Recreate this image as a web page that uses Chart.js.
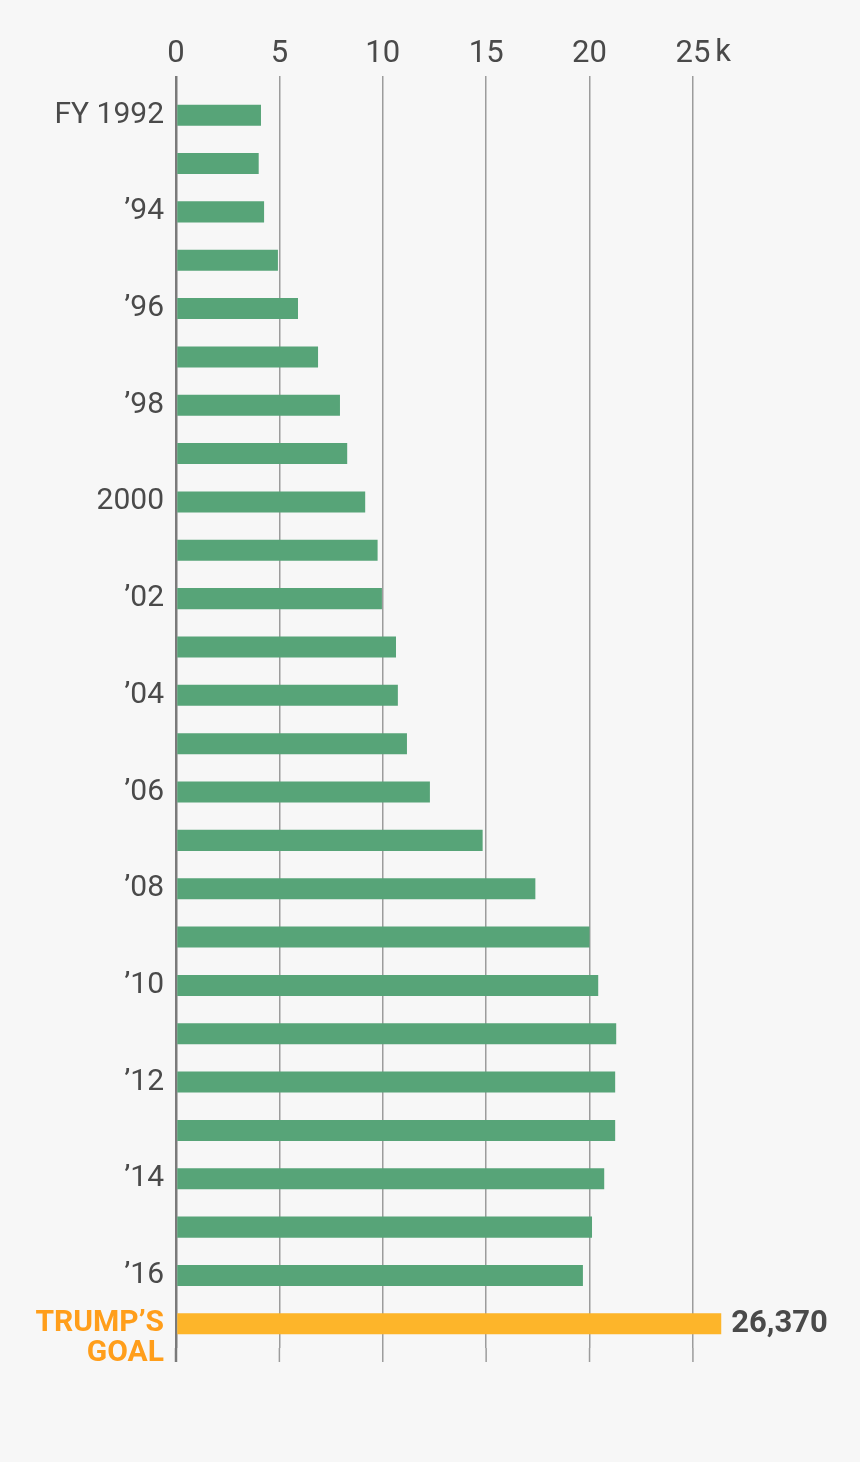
<!DOCTYPE html>
<html>
<head>
<meta charset="utf-8">
<script src="https://cdn.jsdelivr.net/npm/chart.js@4.4.1/dist/chart.umd.min.js"></script>
<style>
  html, body { margin: 0; padding: 0; background: #f7f7f7; }
  #wrap { width: 860px; height: 1462px; position: relative; }
</style>
</head>
<body>
<div id="wrap"><canvas id="barChart"></canvas></div>
<script>
// fiscal years, FY 1992 - FY 2016, then the goal row
var years = ["FY 1992", "", "\u201994", "", "\u201996", "", "\u201998", "", "2000", "",
  "\u201902", "", "\u201904", "", "\u201906", "", "\u201908", "", "\u201910", "",
  "\u201912", "", "\u201914", "", "\u201916", ["", "TRUMP\u2019S", "GOAL"]];

// values in thousands
var values = [4.11, 4.0, 4.26, 4.93, 5.9, 6.87, 7.93, 8.28, 9.15, 9.75,
  9.96, 10.64, 10.73, 11.17, 12.28, 14.83, 17.38, 20.0, 20.42, 21.29,
  21.24, 21.24, 20.71, 20.12, 19.68];
var goal = 26.37;

var xTicks = [0, 5, 10, 15, 20, 25];

var GREEN = "#57a478";
var ORANGE = "#fdb52a";
var ORANGE_TEXT = "#ff9e1b";
var TEXT = "#4a4a4a";
var FONT = "Roboto, 'Noto Sans', sans-serif";

var data = values.concat([goal]);
var colors = data.map(function (v, i) { return i === data.length - 1 ? ORANGE : GREEN; });

// extend grid lines a bit below the chart area, draw the "k" unit and the goal label
var extras = {
  id: "extras",
  beforeDatasetsDraw: function (chart) {
    var ctx = chart.ctx, x = chart.scales.x, area = chart.chartArea;
    ctx.save();
    x.ticks.forEach(function (t) {
      var px = x.getPixelForValue(t.value);
      ctx.strokeStyle = t.value === 0 ? "#7a7a7a" : "#9c9c9c";
      ctx.lineWidth = t.value === 0 ? 2.5 : 1.5;
      ctx.beginPath();
      ctx.moveTo(px, area.bottom);
      ctx.lineTo(px, area.bottom + 14);
      ctx.stroke();
    });
    ctx.restore();
  },
  afterDraw: function (chart) {
    var ctx = chart.ctx, x = chart.scales.x;
    ctx.save();
    ctx.font = "31px " + FONT;
    ctx.fillStyle = TEXT;
    ctx.textBaseline = "middle";
    var last = xTicks[xTicks.length - 1];
    var w = ctx.measureText(String(last)).width;
    ctx.fillText("k", x.getPixelForValue(last) + w / 2 + 5, 53);

    var meta = chart.getDatasetMeta(0);
    var bar = meta.data[data.length - 1];
    ctx.font = "bold 31px " + FONT;
    ctx.fillText(Math.round(goal * 1000).toLocaleString("en-US"), bar.x + 10, bar.y);
    ctx.restore();
  }
};

var ctxBar = document.getElementById("barChart").getContext("2d");
var barChart = new Chart(ctxBar, {
  type: "bar",
  data: {
    labels: years,
    datasets: [
      {
        data: data,
        backgroundColor: colors,
        borderWidth: 0,
        barPercentage: 0.435,
        categoryPercentage: 1,
      },
    ],
  },
  options: {
    indexAxis: "y",
    responsive: true,
    maintainAspectRatio: false,
    animation: false,
    layout: { padding: { top: 0, right: 134, bottom: 114, left: 0 } },
    plugins: {
      legend: { display: false },
      tooltip: { enabled: false },
    },
    scales: {
      x: {
        position: "top",
        min: 0,
        max: 26.6,
        afterBuildTicks: function (scale) {
          scale.ticks = xTicks.map(function (v) { return { value: v }; });
        },
        afterFit: function (scale) { scale.height = 91; },
        border: { display: false },
        grid: {
          color: function (c) { return c.tick && c.tick.value === 0 ? "#7a7a7a" : "#9c9c9c"; },
          lineWidth: function (c) { return c.tick && c.tick.value === 0 ? 2.5 : 1.5; },
          drawTicks: true,
          tickLength: 15,
        },
        ticks: {
          color: TEXT,
          padding: 3,
          font: { family: FONT, size: 31 },
        },
      },
      y: {
        afterFit: function (scale) { scale.width = 176; },
        border: { display: false },
        grid: { display: false },
        ticks: {
          autoSkip: false,
          padding: 4,
          color: function (c) { return c.index === years.length - 1 ? ORANGE_TEXT : TEXT; },
          font: function (c) {
            if (c.index === years.length - 1) {
              return { family: FONT, size: 30, weight: "bold", lineHeight: 1.0 };
            }
            return { family: FONT, size: 30 };
          },
        },
      },
    },
  },
  plugins: [extras],
});
</script>
</body>
</html>
